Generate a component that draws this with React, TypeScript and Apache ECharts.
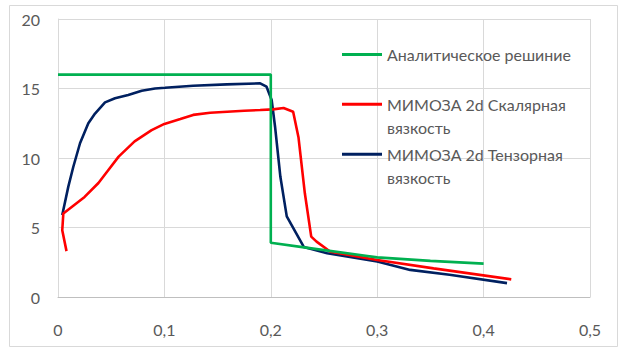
import React, { useEffect, useRef } from "react";
import * as echarts from "echarts";

const seriesNames = [
  "Аналитическое решиние",
  "МИМОЗА 2d Скалярная вязкость",
  "МИМОЗА 2d Тензорная вязкость",
];
const seriesColors = ["#00b050", "#ff0000", "#002060"];

const analyticX = [0, 0.2, 0.2, 0.233, 0.3, 0.35, 0.4];
const analyticY = [16, 16, 3.9, 3.55, 2.85, 2.6, 2.4];

const scalarX = [0.008, 0.004, 0.005, 0.015, 0.025, 0.038, 0.047, 0.057, 0.072, 0.088, 0.1, 0.115, 0.127, 0.143, 0.159, 0.175, 0.19, 0.202, 0.212, 0.221, 0.226, 0.232, 0.238, 0.243, 0.256, 0.3, 0.353, 0.426];
const scalarY = [3.3, 4.8, 6.0, 6.6, 7.2, 8.2, 9.1, 10.1, 11.2, 12.0, 12.45, 12.8, 13.1, 13.25, 13.33, 13.4, 13.45, 13.5, 13.6, 13.33, 11.5, 7.46, 4.34, 3.98, 3.26, 2.66, 2.06, 1.27];

const tensorX = [0.004, 0.0097, 0.0144, 0.0207, 0.0285, 0.0348, 0.0442, 0.0536, 0.066, 0.0787, 0.0912, 0.1006, 0.127, 0.1586, 0.19, 0.196, 0.2008, 0.204, 0.209, 0.215, 0.231, 0.253, 0.3, 0.331, 0.368, 0.422];
const tensorY = [5.9, 7.94, 9.37, 11.06, 12.5, 13.2, 14.0, 14.3, 14.53, 14.84, 15.0, 15.05, 15.2, 15.3, 15.37, 15.13, 14.17, 12.25, 8.65, 5.8, 3.6, 3.15, 2.55, 1.95, 1.6, 1.0];

const xTicks = [0, 0.1, 0.2, 0.3, 0.4, 0.5];
const yTicks = [0, 5, 10, 15, 20];

const zip = (xs: number[], ys: number[]) => xs.map((x, i) => [x, ys[i]]);

export default function App() {
  const ref = useRef<HTMLDivElement>(null);
  useEffect(() => {
    if (!ref.current) return;
    const chart = echarts.init(ref.current, null, { renderer: "svg" });
    const font = "Lato, 'Open Sans', sans-serif";
    const legendTops = [43, 69.8, 119.8];
    const fmt = (name: string) =>
      name.indexOf("МИМОЗА") === 0 ? "\n" + name.replace(" вязкость", "\nвязкость") : name;
    const allData = [zip(analyticX, analyticY), zip(scalarX, scalarY), zip(tensorX, tensorY)];
    chart.setOption({
      animation: false,
      backgroundColor: "#ffffff",
      grid: { left: 58, top: 19, right: 28, bottom: 51, containLabel: false },
      legend: seriesNames.map((n, i) => ({
        data: [n],
        left: 342,
        top: legendTops[i],
        padding: 0,
        icon: "rect",
        itemWidth: 40,
        itemHeight: 3,
        itemGap: 5,
        selectedMode: false,
        formatter: fmt,
        textStyle: { color: "#595959", fontFamily: font, fontSize: 16, lineHeight: 23 },
      })),
      graphic: [
        {
          type: "rect",
          shape: { x: 9.5, y: 5.5, width: 608, height: 341 },
          style: { fill: "none", stroke: "#d9d9d9", lineWidth: 1 },
          silent: true,
          z: -10,
        },
      ],
      xAxis: {
        type: "value",
        min: 0,
        max: 0.5,
        interval: 0.1,
        axisLine: { show: true, lineStyle: { color: "#bfbfbf", width: 1 } },
        axisTick: { show: false },
        splitLine: { show: true, lineStyle: { color: "#d9d9d9", width: 1 } },
        axisLabel: {
          margin: 24,
          color: "#595959",
          fontFamily: font,
          fontSize: 16,
          formatter: (v: number) => {
            const t = xTicks.find((k) => Math.abs(k - v) < 1e-9);
            return String(t !== undefined ? Math.round(t * 10) / 10 : v).replace(".", ",");
          },
        },
      },
      yAxis: {
        type: "value",
        min: 0,
        max: 20,
        interval: 5,
        axisLine: { show: true, lineStyle: { color: "#d9d9d9", width: 1 } },
        axisTick: { show: false },
        splitLine: { show: true, lineStyle: { color: "#d9d9d9", width: 1 } },
        axisLabel: {
          margin: 18,
          color: "#595959",
          fontFamily: font,
          fontSize: 16,
          formatter: (v: number) => (yTicks.indexOf(v) >= 0 ? String(v) : ""),
        },
      },
      series: seriesNames.map((n, i) => ({
        name: n,
        type: "line",
        data: allData[i],
        showSymbol: false,
        symbol: "none",
        lineStyle: { color: seriesColors[i], width: 2.6 },
        itemStyle: { color: seriesColors[i] },
        z: 3 - i,
      })),
    });
    return () => chart.dispose();
  }, []);
  return (
    <div
      ref={ref}
      style={{ position: "fixed", left: 0, top: 0, width: 618, height: 348, background: "#fff" }}
    />
  );
}
